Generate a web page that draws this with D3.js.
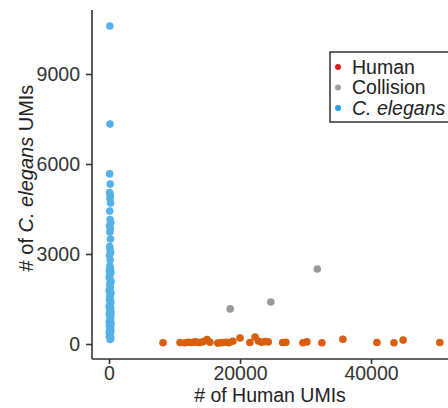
<!DOCTYPE html>
<html>
<head>
<meta charset="UTF-8">
<title>Species mixing</title>
<style>
body { margin: 0; background: #fff; }
svg { display: block; font-family: "Liberation Sans", Arial, sans-serif; }
.axis path, .axis line { stroke: #333; stroke-width: 1.6px; }
.axis text { font-size: 19.5px; fill: #333; }
</style>
<script src="https://cdn.jsdelivr.net/npm/d3@7"></script>
</head>
<body>
<div id="canvas"></div>
<script>
// human cells
var humanX = [8240, 10840, 11600, 12100, 12600, 13100, 13500, 13900, 14400, 14960, 15400, 16600, 17000, 17400, 17900, 18300, 18900, 20000,
  21500, 22300, 22800, 23300, 23800, 24300, 26500, 27000, 29600, 30200, 32500, 35700, 40900, 43500, 44900, 50500];
var humanY = [40, 50, 40, 60, 50, 70, 60, 50, 80, 150, 60, 30, 40, 50, 60, 40, 90, 200,
  50, 230, 100, 60, 80, 70, 50, 60, 40, 70, 40, 160, 50, 40, 130, 50];

// collisions
var collisionX = [18500, 24700, 31800];
var collisionY = [1170, 1400, 2500];

// C. elegans cells
var celegansX = [120, 150, 100, 180, 90, 200, 140, 230, 110, 160, 260, 80, 190, 130, 220, 100, 150, 240, 70, 170,
  120, 210, 40, 290, 140, 20, 180, 310, 110, 200, 150, 30, 300, 130, 190, 60, 280, 160, 20, 250,
  120, 300, 40, 270, 140, 220, 30, 310, 60, 230, 130, 290, 20, 210, 150, 50, 280, 170];
var celegansY = [10600, 7330, 5670, 5330, 5050, 4950, 4850, 4700, 4430, 4150, 4050, 3950, 3850, 3730, 3500, 3250, 3150, 3050, 2950, 2800,
  2600, 2520, 2450, 2380, 2300, 2230, 2150, 2080, 2000, 1920, 1850, 1780, 1700, 1620, 1550, 1480, 1400, 1330, 1260, 1200,
  1130, 1060, 1000, 930, 870, 800, 740, 680, 620, 560, 500, 450, 400, 350, 300, 250, 200, 150];

var xTicks = [0, 20000, 40000];
var yTicks = [0, 3000, 6000, 9000];

var legendNames = ["Human", "Collision", "C. elegans"];
var legendColors = ["#e41a1c", "#9e9e9e", "#1ea1e0"];

var width = 448, height = 408;

var svg = d3.select("#canvas").append("svg")
  .attr("width", width)
  .attr("height", height);

var x = d3.scaleLinear().domain([-2600, 58000]).range([92, 92 + 60600 / 20000 * 131]);
var y = d3.scaleLinear().domain([-500, 11133]).range([359, 10]);

// axes
svg.append("g")
  .attr("class", "axis")
  .attr("transform", "translate(0," + 359 + ")")
  .call(d3.axisBottom(x).tickValues(xTicks).tickFormat(d3.format("d")).tickSize(5).tickPadding(2).tickSizeOuter(0))
  .call(function(g) { g.select(".domain").attr("d", "M92,0H" + (x.range()[1])); });

svg.append("g")
  .attr("class", "axis")
  .attr("transform", "translate(92,0)")
  .call(d3.axisLeft(y).tickValues(yTicks).tickFormat(d3.format("d")).tickSize(6).tickPadding(6).tickSizeOuter(0))
  .call(function(g) { g.select(".domain").attr("d", "M0,10V359"); });

// points
function dots(xs, ys, color) {
  svg.append("g")
    .selectAll("circle")
    .data(xs.map(function(v, i) { return [v, ys[i]]; }))
    .enter()
    .append("circle")
    .attr("cx", function(d) { return x(d[0]); })
    .attr("cy", function(d) { return y(d[1]); })
    .attr("r", 3.8)
    .attr("fill", color);
}
dots(celegansX, celegansY, "#56b1e6");
dots(collisionX, collisionY, "#999999");
dots(humanX, humanY, "#d95f0e");

// axis titles
svg.append("text")
  .attr("x", 270)
  .attr("y", 402)
  .attr("text-anchor", "middle")
  .style("font-size", "19.5px")
  .style("fill", "#222")
  .text("# of Human UMIs");

var yt = svg.append("text")
  .attr("transform", "translate(33,178) rotate(-90)")
  .attr("text-anchor", "middle")
  .style("font-size", "20px")
  .style("fill", "#222");
yt.append("tspan").text("# of ");
yt.append("tspan").style("font-style", "italic").text("C. elegans");
yt.append("tspan").text(" UMIs");

// legend
var legend = svg.append("g").attr("transform", "translate(330,52)");
legend.append("rect")
  .attr("width", 140)
  .attr("height", 70)
  .attr("fill", "#fff")
  .attr("stroke", "#222")
  .attr("stroke-width", 1.4);

var items = legend.selectAll(".item")
  .data(legendNames)
  .enter()
  .append("g")
  .attr("transform", function(d, i) { return "translate(0," + (15 + i * 20.5) + ")"; });

items.append("circle")
  .attr("cx", 8)
  .attr("cy", 0)
  .attr("r", 3)
  .attr("fill", function(d, i) { return legendColors[i]; });

items.append("text")
  .attr("x", 22)
  .attr("y", 6.5)
  .style("font-size", "19.5px")
  .style("fill", "#222")
  .style("font-style", function(d) { return d === "C. elegans" ? "italic" : "normal"; })
  .text(function(d) { return d; });
</script>
</body>
</html>
